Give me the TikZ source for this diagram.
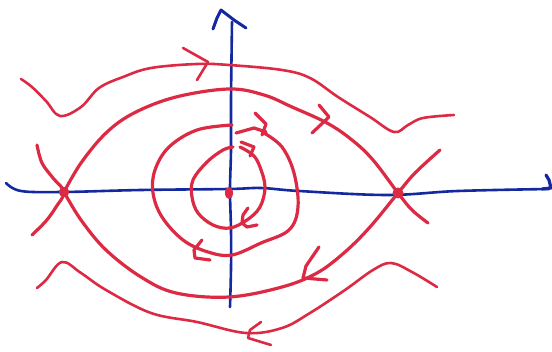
\documentclass[tikz,border=0pt]{standalone}
\usepackage{tikz}
\usepackage{xcolor}
\definecolor{inkred}{HTML}{DC2A44}
\definecolor{inkblue}{HTML}{1428A0}
\begin{document}
\begin{tikzpicture}[x=1pt,y=-1pt,
  redline/.style={inkred,line width=3.2pt,line cap=round,line join=round},
  thinred/.style={inkred,line width=2.6pt,line cap=round,line join=round},
  blueline/.style={inkblue,line width=2.6pt,line cap=round,line join=round}]
  \useasboundingbox (0,0) rectangle (552,352);
  \coordinate (O) at (229,193);
  \coordinate (SL) at (64,192);
  \coordinate (SR) at (398,193);
  % axes
  \draw[blueline] plot[smooth,tension=0.6] coordinates {(6,183) (21,191) (63,192) (141,190) (229,189) (261,188) (299,191) (387,195) (458,191) (549,189)};
  \draw[blueline,line width=3.2pt] (542,189) -- (551,188) -- (549,180) -- (546,175);
  \draw[blueline] plot[smooth,tension=0.6] coordinates {(230,307) (231,268) (231,230) (230,190) (231,150) (231,100) (232,22)};
  \draw[blueline,line width=3pt] (213,29) -- (217,18) -- (221,10) -- (234,20) -- (246,28);
  % saddle separatrices
  \draw[redline] plot[smooth,tension=0.6] coordinates {(37,145) (42,163) (53,178) (SL) (56,207) (46,221) (32,235)};
  \draw[redline] plot[smooth,tension=0.6] coordinates {(SL) (81,163) (106,133) (134,113) (176,97) (229,89) (264,95) (292,107) (327,123) (352,140) (373,160) (SR) (412,210) (428,223)};
  \draw[redline] plot[smooth,tension=0.6] coordinates {(440,150) (415,173) (SR) (370,227) (345,252) (317,273) (282,287) (229,297) (176,293) (141,277) (106,250) (81,220) (SL)};
  \draw[redline] (319,105) -- (329,117) -- (312,133);
  \draw[redline] (319,247) -- (306,266) -- (303,278) -- (327,280);
  \draw[redline] (SL) circle (3.5);
  \fill[inkred] (SR) circle (5.5);
  % rotating orbits
  \draw[thinred] plot[smooth,tension=0.6] coordinates {(21,79) (32,87) (46,101) (60,116) (81,107) (99,88) (123,77) (151,68) (197,64) (229,65) (282,70) (310,78) (338,97) (370,117) (394,132) (408,125) (423,118) (454,115)};
  \draw[thinred] (183,48) -- (208,62) -- (197,80);
  \draw[thinred] plot[smooth,tension=0.6] coordinates {(37,288) (46,280) (62,262) (81,273) (106,290) (151,313) (197,322) (246,333) (282,328) (310,313) (345,290) (373,270) (391,263) (412,272) (437,287)};
  \draw[thinred] (261,322) -- (250,330) -- (248,338) -- (271,345);
  % closed orbits
  \draw[redline] plot[smooth,tension=0.6] coordinates {(232,125) (197,130) (169,147) (155,170) (153,193) (162,217) (183,240) (208,252) (232,255) (261,243) (289,230) (298,207) (294,173) (282,147) (264,133)};
  \draw[redline] (236,133) -- (254,128) -- (266,132);
  \draw[redline] (255,113) -- (266,124) -- (262,135);
  \draw[redline] (202,240) -- (194,250) -- (195,258) -- (210,260);
  \draw[redline] plot[smooth,tension=0.6] coordinates {(233,147) (223,150) (207,162) (193,180) (192,197) (198,213) (213,225) (230,228) (247,220) (260,207) (265,187) (260,167) (253,155) (240,147)};
  \draw[redline] (241,142) -- (254,147) -- (250,156);
  \draw[redline] (248,208) -- (243,215) -- (242,223) -- (247,227) -- (257,225);
  \fill[inkred] (O) ellipse (4 and 6);
\end{tikzpicture}
\end{document}
